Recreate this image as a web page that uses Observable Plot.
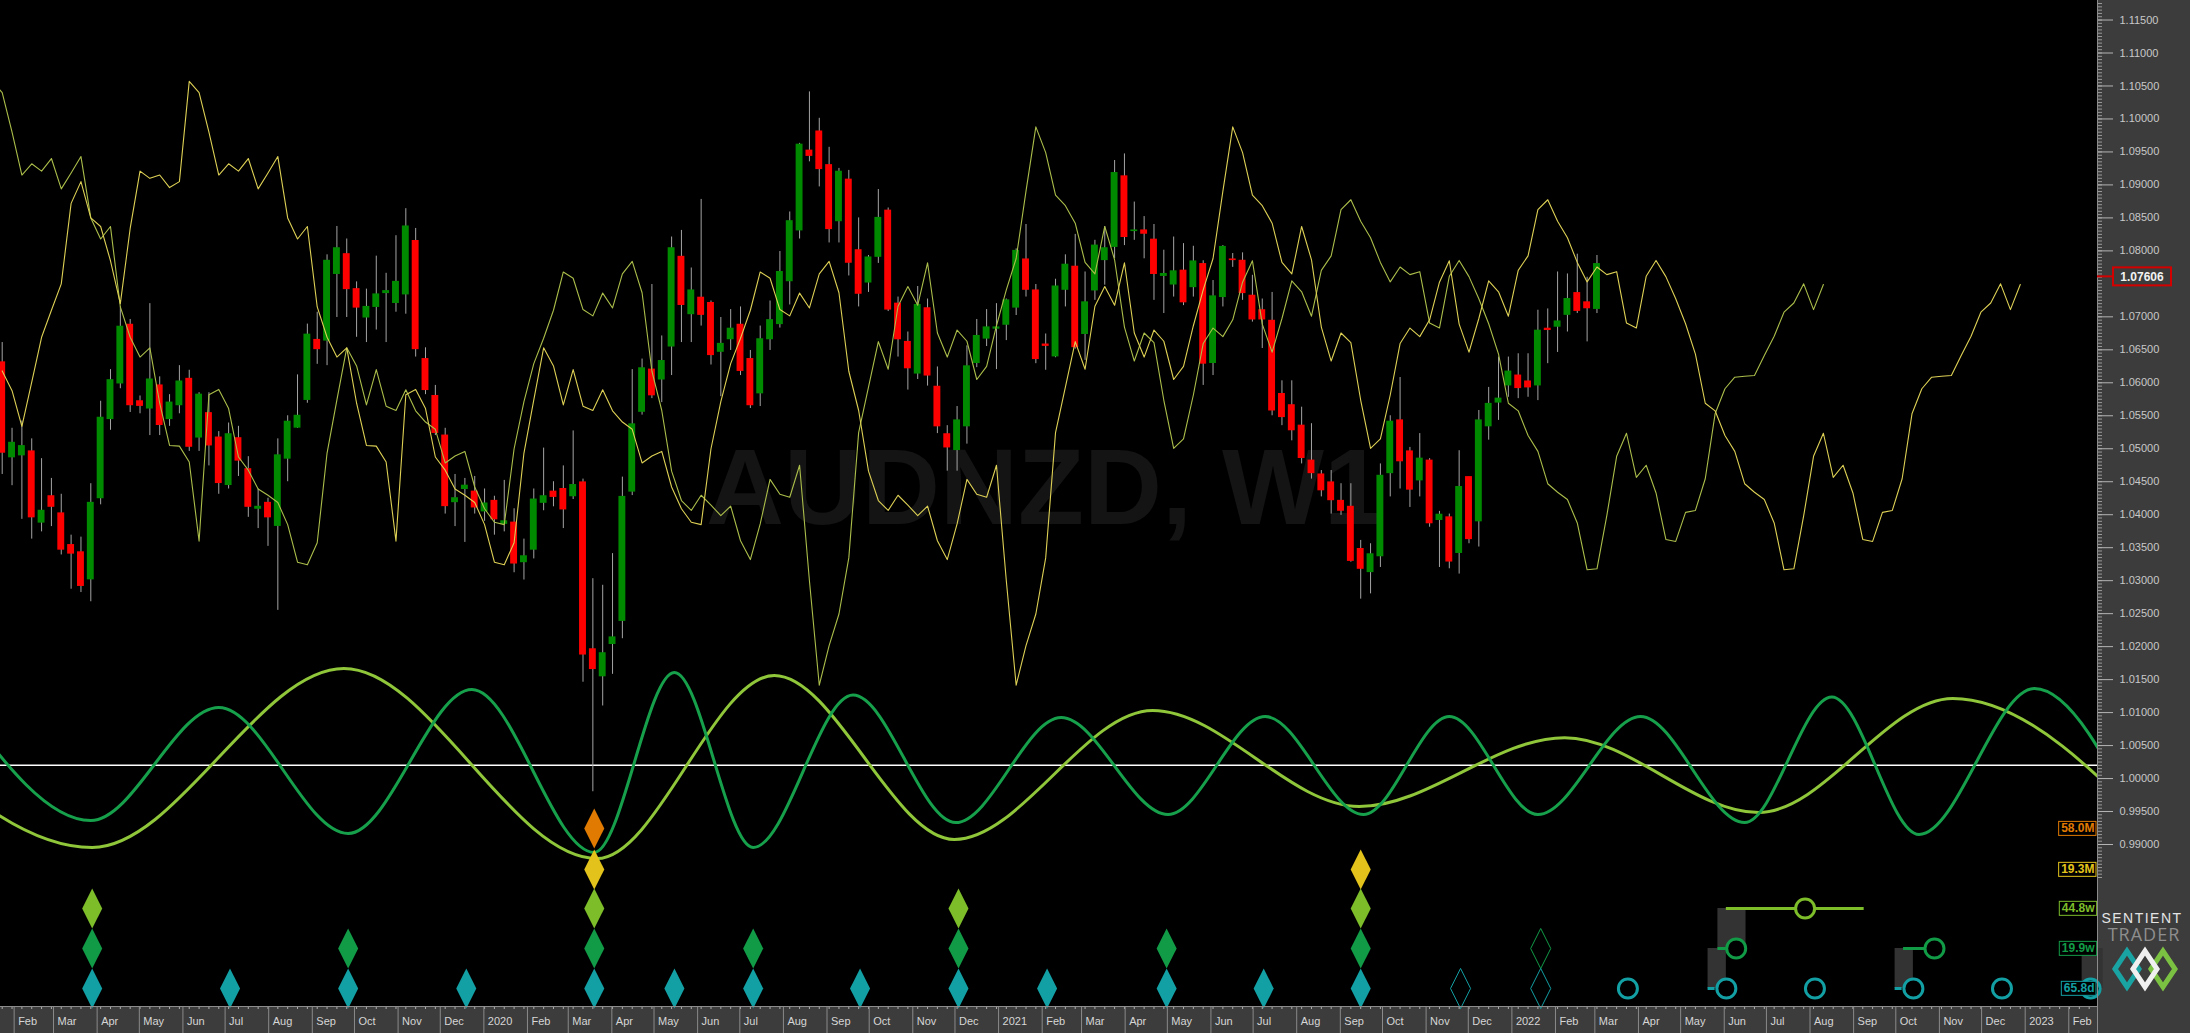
<!DOCTYPE html>
<html>
<head>
<meta charset="utf-8">
<style>
  html, body { margin: 0; padding: 0; background: #000; }
  svg { display: block; }
</style>
<script src="https://cdn.jsdelivr.net/npm/d3@7"></script>
<script src="https://cdn.jsdelivr.net/npm/@observablehq/plot@0.6"></script>
</head>
<body>
<div id="chart"></div>
<script>
// ---------------- DATA ----------------
const symbolName = "AUDNZD, W1";
const currentPrice = 1.07606;
const candleStart = "2019-01-23T12:00:00Z"; // first weekly bar

const opens = [1.0631,1.0487,1.0490,1.0496,1.0388,1.0428,1.0402,1.0354,1.0343,1.0302,1.0425,1.0545,1.0599,1.0688,1.0572,1.0561,1.0596,1.0545,1.0566,1.0606,1.0517,1.0554,1.0517,1.0445,1.0516,1.0469,1.0409,1.0418,1.0383,1.0485,1.0532,1.0574,1.0665,1.0664,1.0765,1.0795,1.0742,1.0699,1.0715,1.0736,1.0721,1.0734,1.0815,1.0636,1.0580,1.0520,1.0419,1.0439,1.0435,1.0405,1.0421,1.0386,1.0388,1.0328,1.0347,1.0418,1.0435,1.0439,1.0428,1.0449,1.0196,1.0155,1.0204,1.0239,1.0435,1.0556,1.0620,1.0605,1.0655,1.0791,1.0704,1.0729,1.0721,1.0647,1.0666,1.0688,1.0636,1.0584,1.0666,1.0689,1.0754,1.0831,1.0952,1.0981,1.0930,1.0845,1.0908,1.0801,1.0752,1.0791,1.0861,1.0720,1.0662,1.0614,1.0713,1.0594,1.0522,1.0498,1.0534,1.0630,1.0667,1.0682,1.0688,1.0714,1.0787,1.0740,1.0658,1.0640,1.0741,1.0776,1.0674,1.0740,1.0786,1.0806,1.0913,1.0830,1.0831,1.0817,1.0762,1.0749,1.0770,1.0745,1.0780,1.0630,1.0730,1.0787,1.0785,1.0732,1.0710,1.0694,1.0583,1.0566,1.0535,1.0482,1.0461,1.0449,1.0421,1.0412,1.0348,1.0313,1.0337,1.0463,1.0543,1.0496,1.0452,1.0482,1.0392,1.0396,1.0342,1.0457,1.0390,1.0534,1.0570,1.0596,1.0611,1.0602,1.0596,1.0682,1.0685,1.0703,1.0736,1.0722,1.0712];
const highs = [1.0661,1.0531,1.0542,1.0515,1.0485,1.0455,1.0431,1.0369,1.0366,1.0447,1.0572,1.0620,1.0715,1.0696,1.0580,1.0720,1.0609,1.0582,1.0626,1.0619,1.0585,1.0585,1.0526,1.0539,1.0534,1.0488,1.0439,1.0425,1.0515,1.0550,1.0612,1.0689,1.0707,1.0794,1.0837,1.0818,1.0753,1.0742,1.0792,1.0766,1.0823,1.0864,1.0834,1.0653,1.0596,1.0531,1.0461,1.0455,1.0458,1.0439,1.0428,1.0452,1.0409,1.0363,1.0439,1.0501,1.0450,1.0474,1.0527,1.0454,1.0303,1.0293,1.0341,1.0457,1.0620,1.0636,1.0749,1.0671,1.0821,1.0831,1.0774,1.0878,1.0724,1.0699,1.0711,1.0715,1.0649,1.0686,1.0724,1.0799,1.0859,1.0963,1.1041,1.1001,1.0957,1.0925,1.0922,1.0850,1.0793,1.0893,1.0865,1.0730,1.0677,1.0746,1.0727,1.0624,1.0535,1.0564,1.0656,1.0696,1.0711,1.0720,1.0727,1.0803,1.0840,1.0749,1.0674,1.0757,1.0794,1.0825,1.0768,1.0816,1.0837,1.0937,1.0947,1.0874,1.0852,1.0840,1.0801,1.0821,1.0811,1.0807,1.0785,1.0755,1.0808,1.0796,1.0797,1.0763,1.0727,1.0737,1.0603,1.0603,1.0563,1.0538,1.0467,1.0467,1.0447,1.0447,1.0361,1.0356,1.0477,1.0550,1.0608,1.0502,1.0523,1.0485,1.0405,1.0401,1.0497,1.0457,1.0558,1.0593,1.0639,1.0639,1.0644,1.0644,1.0710,1.0712,1.0768,1.0765,1.0795,1.0760,1.0793];
const lows = [1.0461,1.0444,1.0393,1.0363,1.0374,1.0382,1.0339,1.0287,1.0282,1.0268,1.0415,1.0528,1.0591,1.0555,1.0553,1.0520,1.0520,1.0534,1.0553,1.0496,1.0496,1.0474,1.0431,1.0439,1.0458,1.0396,1.0379,1.0352,1.0255,1.0450,1.0531,1.0569,1.0628,1.0626,1.0699,1.0699,1.0669,1.0661,1.0680,1.0661,1.0707,1.0704,1.0639,1.0582,1.0520,1.0401,1.0382,1.0358,1.0401,1.0390,1.0369,1.0374,1.0312,1.0301,1.0333,1.0406,1.0412,1.0379,1.0423,1.0146,0.9980,1.0110,1.0158,1.0212,1.0429,1.0551,1.0576,1.0570,1.0611,1.0661,1.0661,1.0686,1.0627,1.0579,1.0649,1.0611,1.0561,1.0564,1.0649,1.0683,1.0718,1.0818,1.0935,1.0897,1.0812,1.0812,1.0762,1.0715,1.0737,1.0781,1.0708,1.0639,1.0589,1.0605,1.0595,1.0523,1.0466,1.0466,1.0507,1.0623,1.0655,1.0620,1.0664,1.0702,1.0730,1.0629,1.0619,1.0638,1.0715,1.0651,1.0634,1.0725,1.0748,1.0788,1.0808,1.0816,1.0788,1.0725,1.0705,1.0730,1.0717,1.0730,1.0596,1.0611,1.0715,1.0775,1.0725,1.0692,1.0652,1.0550,1.0535,1.0512,1.0477,1.0454,1.0427,1.0401,1.0399,1.0328,1.0272,1.0280,1.0320,1.0427,1.0439,1.0411,1.0427,1.0381,1.0320,1.0318,1.0310,1.0356,1.0351,1.0513,1.0543,1.0578,1.0576,1.0578,1.0573,1.0629,1.0646,1.0677,1.0705,1.0662,1.0705];
const closes = [1.0494,1.0509,1.0504,1.0396,1.0406,1.0412,1.0347,1.0341,1.0292,1.0418,1.0547,1.0604,1.0685,1.0566,1.0565,1.0605,1.0536,1.0570,1.0602,1.0503,1.0582,1.0505,1.0448,1.0522,1.0482,1.0412,1.0412,1.0396,1.0490,1.0541,1.0550,1.0673,1.0651,1.0785,1.0804,1.0742,1.0714,1.0715,1.0734,1.0739,1.0753,1.0837,1.0651,1.0589,1.0524,1.0413,1.0425,1.0444,1.0411,1.0417,1.0393,1.0390,1.0326,1.0337,1.0423,1.0428,1.0427,1.0408,1.0445,1.0188,1.0166,1.0190,1.0214,1.0427,1.0537,1.0622,1.0581,1.0633,1.0804,1.0718,1.0740,1.0703,1.0642,1.0659,1.0682,1.0618,1.0566,1.0666,1.0695,1.0768,1.0845,1.0961,1.0944,1.0924,1.0833,1.0920,1.0782,1.0735,1.0790,1.0850,1.0711,1.0666,1.0622,1.0718,1.0611,1.0534,1.0502,1.0543,1.0625,1.0671,1.0684,1.0684,1.0725,1.0800,1.0741,1.0636,1.0656,1.0746,1.0779,1.0654,1.0722,1.0808,1.0804,1.0918,1.0821,1.0831,1.0826,1.0765,1.0765,1.0769,1.0722,1.0784,1.0629,1.0731,1.0806,1.0786,1.0736,1.0696,1.0696,1.0558,1.0548,1.0528,1.0486,1.0463,1.0437,1.0422,1.0406,1.0330,1.0318,1.0340,1.0459,1.0541,1.0481,1.0438,1.0485,1.0387,1.0400,1.0329,1.0442,1.0363,1.0543,1.0568,1.0576,1.0617,1.0592,1.0593,1.0679,1.0680,1.0693,1.0727,1.0709,1.0713,1.0780];

// median price (H+L)/2 of the 43 weeks before the first visible bar
const preMedians = [1.0618,1.0588,1.0534,1.0601,1.0669,1.0710,1.0750,1.0872,1.0905,1.0850,1.0837,1.0785,1.0720,1.0834,1.0921,1.0910,1.0915,1.0896,1.0905,1.1057,1.1040,1.0980,1.0915,1.0932,1.0921,1.0940,1.0894,1.0918,1.0943,1.0850,1.0818,1.0837,1.0715,1.0669,1.0639,1.0653,1.0569,1.0505,1.0504,1.0480,1.0360,1.0582,1.0590];
const fldShiftWeeks448w = 23;   // half of 44.8 weeks
const fldShiftWeeks193M = 43;   // half of 19.3 months

// cycle model waves: turning points
const wave199wDates = ["2018-12-25","2019-03-27","2019-06-26","2019-09-26","2019-12-23","2020-03-19","2020-05-15","2020-07-10","2020-09-19","2020-12-01","2021-02-14","2021-05-01","2021-07-09","2021-09-17","2021-11-17","2022-01-19","2022-04-02","2022-06-15","2022-08-16","2022-10-17","2023-01-07","2023-03-25"];
const wave199wValues = [1.0110,0.99364,1.01077,0.99167,1.0135,0.9888,1.01608,0.98955,1.01265,0.99333,1.00925,0.99455,1.0094,0.99455,1.0094,0.99455,1.0094,0.99333,1.01235,0.99152,1.01365,0.9920];
const wave448wDates = ["2018-09-30","2019-03-28","2019-09-23","2020-03-21","2020-07-25","2020-11-30","2021-04-20","2021-09-14","2022-02-07","2022-06-25","2022-11-10","2023-04-15"];
const wave448wValues = [1.0165,0.98955,1.01668,0.98788,1.01562,0.99076,1.01032,0.99576,1.0062,0.99485,1.01214,0.9890];
const zeroLine = 1.0020;

// cycle rows
const cycleNames = ["58.0M","19.3M","44.8w","19.9w","65.8d"];
const troughs580M = ["2020-03-19"];
const troughs193M = ["2020-03-19","2021-09-15"];
const troughs448w = ["2019-03-28","2020-03-19","2020-12-03","2021-09-15"];
const troughs199w = ["2019-03-28","2019-09-26","2020-03-19","2020-07-10","2020-12-03","2021-04-30","2021-09-15"];
const troughs658d = ["2019-03-28","2019-07-04","2019-09-26","2019-12-19","2020-03-19","2020-05-15","2020-07-10","2020-09-24","2020-12-03","2021-02-04","2021-04-30","2021-07-08","2021-09-15"];
const pending199w = ["2022-01-21"];
const pending658d = ["2021-11-25","2022-01-21"];
const projected448w = ["2022-07-28"];
const projected199w = ["2022-06-09","2022-10-28"];
const projected658d = ["2022-03-24","2022-06-02","2022-08-04","2022-10-13","2022-12-15","2023-02-16"];
const projectionRanges = [
  {cycle: "44.8w", from: "2022-06-02", to: "2022-09-08"},
  {cycle: "19.9w", from: "2022-05-27", to: "2022-06-02"},
  {cycle: "19.9w", from: "2022-10-06", to: "2022-10-21"},
  {cycle: "65.8d", from: "2022-05-20", to: "2022-05-25"},
  {cycle: "65.8d", from: "2022-09-30", to: "2022-10-05"}
];
const brackets = [
  {from: "2022-05-27", to: "2022-06-16", top: "44.8w", bottom: "19.9w"},
  {from: "2022-05-20", to: "2022-06-02", top: "19.9w", bottom: "65.8d"},
  {from: "2022-09-30", to: "2022-10-13", top: "19.9w", bottom: "65.8d"},
  {from: "2023-02-10", to: "2023-02-25", top: "19.9w", bottom: "65.8d"}
];
// 1.075 is hidden behind the current-price tag, as in the original
const priceTicks = [0.990,0.995,1.000,1.005,1.010,1.015,1.020,1.025,1.030,1.035,1.040,1.045,1.050,1.055,1.060,1.065,1.070,1.080,1.085,1.090,1.095,1.100,1.105,1.110,1.115];

// ---------------- LAYOUT / STYLE ----------------
const W = 2190, H = 1033, MR = 93, MB = 27;
const DAY = 864e5;
const t0 = Date.parse(candleStart);
const weekDate = i => new Date(t0 + i * 7 * DAY);
const xDomain = [new Date("2019-01-22T07:00:00Z"), new Date("2023-02-21T10:00:00Z")];
const yDomain = [0.96544, 1.11796];
const rowLevel = {"58.0M": 0.99242, "19.3M": 0.98621, "44.8w": 0.98030, "19.9w": 0.97423, "65.8d": 0.96817};
const cycleColor = {"58.0M": "#e07a00", "19.3M": "#e3c31b", "44.8w": "#7dbd2a", "19.9w": "#129b47", "65.8d": "#13a0a4"};
const UP = "#008a00", DOWN = "#ff0000";
const FONT = "'Liberation Sans', Arial, sans-serif";

const candles = opens.map((o, i) => ({date: weekDate(i), open: o, high: highs[i], low: lows[i], close: closes[i]}));
const medians = preMedians.concat(highs.map((h, i) => (h + lows[i]) / 2));
const fld = shift => medians.map((m, j) => ({date: weekDate(j - preMedians.length + shift), value: m}));
const D = s => new Date(s + "T12:00:00Z");
const wave = (ds, vs) => ds.map((d, i) => ({date: D(d), value: vs[i]}));

const diamondSymbol = {
  draw(ctx, size) {
    const r = Math.sqrt(size / Math.PI);
    ctx.moveTo(0, -1.7 * r); ctx.lineTo(0.85 * r, 0); ctx.lineTo(0, 1.7 * r); ctx.lineTo(-0.85 * r, 0); ctx.closePath();
  }
};

const troughSets = [["58.0M", troughs580M], ["19.3M", troughs193M], ["44.8w", troughs448w], ["19.9w", troughs199w], ["65.8d", troughs658d]];
const diamondMarks = troughSets.map(([c, ds]) =>
  Plot.dot(ds.map(D), {x: d => d, y: () => rowLevel[c], r: 11.8, symbol: diamondSymbol, fill: cycleColor[c], stroke: "none"}));
const hollowMarks = [["19.9w", pending199w], ["65.8d", pending658d]].map(([c, ds]) =>
  Plot.dot(ds.map(D), {x: d => d, y: () => rowLevel[c], r: 11.8, symbol: diamondSymbol, fill: "none", stroke: cycleColor[c], strokeWidth: 1}));
const circleMarks = [["44.8w", projected448w], ["19.9w", projected199w], ["65.8d", projected658d]].map(([c, ds]) =>
  Plot.dot(ds.map(D), {x: d => d, y: () => rowLevel[c], r: 9.5, fill: "#000", stroke: cycleColor[c], strokeWidth: 3}));
const labelMarks = cycleNames.map(c =>
  Plot.text([c], {x: () => xDomain[1], y: () => rowLevel[c], text: d => d, textAnchor: "end", dx: -3,
    fill: cycleColor[c], fontSize: 12, fontWeight: "bold", fontFamily: FONT}));

const monthTicks = d3.utcMonth.range(xDomain[0], xDomain[1]);
const weekTicks = d3.range(0, 215).map(weekDate).filter(d => d <= xDomain[1]);
const minorTicks = d3.range(0, 266).map(i => 0.985 + i * 0.0005);
const monthFmt = d => d.getUTCMonth() === 0 ? String(d.getUTCFullYear()) : d3.utcFormat("%b")(d);

const plot = Plot.plot({
  width: W, height: H,
  marginLeft: 0, marginRight: MR, marginTop: 0, marginBottom: MB,
  style: {background: "#000", fontFamily: FONT},
  x: {type: "utc", domain: xDomain},
  y: {domain: yDomain},
  marks: [
    Plot.ruleY([zeroLine], {stroke: "#ffffff", strokeWidth: 1.5}),
    Plot.line(wave(wave448wDates, wave448wValues), {x: "date", y: "value", curve: "monotone-x", stroke: "#8fc63a", strokeWidth: 3, clip: true}),
    Plot.line(wave(wave199wDates, wave199wValues), {x: "date", y: "value", curve: "monotone-x", stroke: "#17a04b", strokeWidth: 3, clip: true}),
    Plot.ruleX(candles, {x: "date", y1: "low", y2: "high", stroke: "#a4a4a4", strokeWidth: 1}),
    Plot.rect(candles, {
      x1: d => new Date(+d.date - 2.45 * DAY), x2: d => new Date(+d.date + 2.45 * DAY),
      y1: "open", y2: "close", insetTop: -0.5, insetBottom: -0.5,
      fill: d => d.close >= d.open ? UP : DOWN
    }),
    Plot.line(fld(fldShiftWeeks448w), {x: "date", y: "value", stroke: "#abbd4a", strokeWidth: 1.1, clip: true}),
    Plot.line(fld(fldShiftWeeks193M), {x: "date", y: "value", stroke: "#ddd055", strokeWidth: 1.1, clip: true}),
    Plot.rect(brackets, {x1: d => D(d.from), x2: d => D(d.to), y1: d => rowLevel[d.top], y2: d => rowLevel[d.bottom], fill: "#333333"}),
    ...projectionRanges.map(r => Plot.ruleY([r], {y: () => rowLevel[r.cycle], x1: () => D(r.from), x2: () => D(r.to), stroke: cycleColor[r.cycle], strokeWidth: 3})),
    ...circleMarks,
    ...diamondMarks,
    ...hollowMarks,
    ...labelMarks,
    Plot.axisY({anchor: "right", ticks: minorTicks, tickSize: 4, tickFormat: () => "", stroke: "#9a9a9a", label: null}),
    Plot.axisY({anchor: "right", ticks: priceTicks, tickSize: 15, tickPadding: 7, tickFormat: d3.format(".5f"),
      stroke: "#b4b4b4", fill: "#c8c8c8", fontSize: 11, label: null}),
    Plot.axisX({anchor: "bottom", ticks: weekTicks, tickSize: 3, tickFormat: () => "", stroke: "#aaaaaa", label: null}),
    Plot.axisX({anchor: "bottom", ticks: monthTicks, tickSize: MB, tickFormat: () => "", stroke: "#8a8a8a", label: null}),
    Plot.axisX({anchor: "bottom", ticks: monthTicks, tickSize: 0, tickPadding: 11, tickFormat: monthFmt,
      textAnchor: "start", dx: 4, fill: "#d6d6d6", fontSize: 11, label: null})
  ]
});

document.getElementById("chart").appendChild(plot);

// ---------------- DECORATION ----------------
const svg = d3.select(plot);
const styleEl = plot.querySelector("style");
const firstMark = styleEl ? styleEl.nextSibling : plot.firstChild;
const bg = svg.insert("g", () => firstMark);
bg.append("rect").attr("x", W - MR).attr("y", 0).attr("width", MR).attr("height", H).attr("fill", "#3c3c3c");
bg.append("rect").attr("x", 0).attr("y", H - MB).attr("width", W - MR).attr("height", MB).attr("fill", "#3c3c3c");
bg.append("text").attr("x", 1045).attr("y", 524).attr("text-anchor", "middle")
  .attr("font-size", 108).attr("font-weight", "bold").attr("fill", "#141414")
  .attr("font-family", FONT).text(symbolName);

svg.append("line").attr("x1", W - MR + 0.5).attr("x2", W - MR + 0.5).attr("y1", 0).attr("y2", H).attr("stroke", "#8c8c8c");
svg.append("line").attr("x1", 0).attr("x2", W - MR).attr("y1", H - MB + 0.5).attr("y2", H - MB + 0.5).attr("stroke", "#8c8c8c");

// boxes round the cycle labels
const cycleSet = new Set(cycleNames);
Array.from(plot.querySelectorAll("text")).filter(t => cycleSet.has(t.textContent)).forEach(t => {
  const b = t.getBBox();
  const col = cycleColor[t.textContent];
  const r = document.createElementNS("http://www.w3.org/2000/svg", "rect");
  if (t.getAttribute("transform")) r.setAttribute("transform", t.getAttribute("transform"));
  r.setAttribute("x", b.x - 2.5); r.setAttribute("y", b.y);
  r.setAttribute("width", b.width + 4); r.setAttribute("height", b.height);
  r.setAttribute("fill", "#000"); r.setAttribute("stroke", col); r.setAttribute("stroke-width", 1);
  t.parentNode.insertBefore(r, t);
});

// current price tag
const py = plot.scale("y").apply(currentPrice);
svg.append("line").attr("x1", W - MR).attr("x2", W - MR + 16).attr("y1", py).attr("y2", py).attr("stroke", "#d40000").attr("stroke-width", 2);
svg.append("rect").attr("x", W - MR + 16).attr("y", py - 9).attr("width", 58).attr("height", 18)
  .attr("fill", "#3c3c3c").attr("stroke", "#d40000").attr("stroke-width", 2);
svg.append("text").attr("x", W - MR + 45).attr("y", py + 4.5).attr("text-anchor", "middle")
  .attr("font-size", 12).attr("font-weight", "bold").attr("fill", "#f2f2f2")
  .attr("font-family", FONT).text(currentPrice.toFixed(5));

// logo
const logo = svg.append("g");
logo.append("text").attr("x", 2142).attr("y", 923).attr("text-anchor", "middle").attr("font-size", 14)
  .attr("letter-spacing", 1.5).attr("fill", "#e4e4e4").attr("font-family", FONT).text("SENTIENT");
logo.append("text").attr("x", 2144).attr("y", 941).attr("text-anchor", "middle").attr("font-size", 18)
  .attr("letter-spacing", 1).attr("fill", "#8e8e8e").attr("font-family", "'Open Sans', 'Liberation Sans', Arial, sans-serif").text("TRADER");
const dia = cx => `M${cx - 12},969 L${cx},951 L${cx + 12},969 L${cx},987 Z`;
logo.append("path").attr("d", dia(2127)).attr("fill", "none").attr("stroke", "#1aa3a3").attr("stroke-width", 5);
logo.append("path").attr("d", dia(2163)).attr("fill", "none").attr("stroke", "#7cc242").attr("stroke-width", 5);
logo.append("path").attr("d", dia(2145)).attr("fill", "none").attr("stroke", "#f0f0f0").attr("stroke-width", 5);
</script>
</body>
</html>
